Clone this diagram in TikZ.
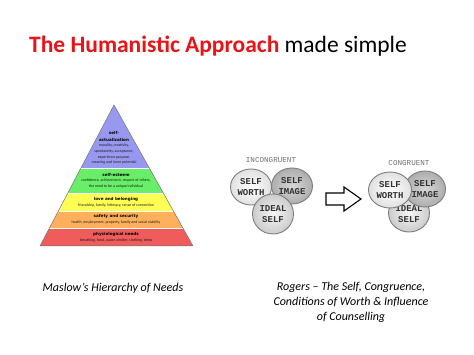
\documentclass[tikz,border=0pt]{standalone}
\usepackage{fontspec}
\setmainfont{Carlito}
\newfontfamily\pyrhead{DejaVu Sans}
\newfontfamily\circfont{Liberation Mono}
\usetikzlibrary{shapes.geometric}
\definecolor{titlered}{RGB}{232,20,24}
\definecolor{pyrpurple}{RGB}{152,152,240}
\definecolor{pyrgreen}{RGB}{104,238,104}
\definecolor{pyryellow}{RGB}{255,255,84}
\definecolor{pyrorange}{RGB}{255,176,92}
\definecolor{pyrred}{RGB}{240,92,92}
\definecolor{circedge}{RGB}{125,125,125}
\definecolor{circtext}{RGB}{50,50,50}
\tikzset{
  pyrtext/.style={align=center, inner sep=0pt, text=black!90, font=\fontsize{3.9}{5.8}\selectfont},
  pyrhd/.style={inner sep=0pt, text=black, font=\pyrhead\bfseries\fontsize{4.1}{5}\selectfont},
  circ/.style={ellipse, draw=circedge, line width=0.9pt, minimum width=41pt, minimum height=36pt, inner sep=0pt, align=center, text=circtext, font=\circfont\bfseries\fontsize{9}{10.5}\selectfont},
  light/.style={inner color=white, outer color=black!12},
  dark/.style={inner color=black!16, outer color=black!32},
  mid/.style={inner color=black!4, outer color=black!20},
  caplabel/.style={text=black!55, inner sep=0pt, font=\circfont\fontsize{7.6}{9}\selectfont},
  caption/.style={align=center, inner sep=0pt, font=\itshape\fontsize{12}{15}\selectfont}
}
\begin{document}
\begin{tikzpicture}[x=1pt,y=-1pt]
\useasboundingbox (0,0) rectangle (474,355);
\fill[white] (0,0) rectangle (474,355);
% title
\node[anchor=base west, inner sep=0pt, font=\fontsize{23.5}{28}\selectfont] (title) at (29,53)
  {\textcolor{titlered}{\bfseries The Humanistic Approach} made simple};
% pyramid
\coordinate (apex) at (114,105);
\coordinate (bl) at (40,246);
\coordinate (br) at (193,246);
\begin{scope}
\clip (apex) -- (bl) -- (br) -- cycle;
\fill[pyrpurple] (0,100) rectangle (474,168);
\fill[pyrgreen] (0,168) rectangle (474,193);
\fill[pyryellow] (0,193) rectangle (474,211);
\fill[pyrorange] (0,211) rectangle (474,228);
\fill[pyrred] (0,228) rectangle (474,247);
\draw[white, line width=0.8pt] (0,168) -- (474,168) (0,193) -- (474,193) (0,211) -- (474,211) (0,228) -- (474,228);
\end{scope}
\draw[black!55, line width=0.5pt, line join=round] (apex) -- (bl) -- (br) -- cycle;
% pyramid texts
\node[pyrhd] (sa1) at (114,133) {self-};
\node[pyrhd] (sa2) at (114,139.5) {actualization};
\node[pyrtext, anchor=north] (sa3) at (114,143.5) {morality, creativity,\\spontaneity, acceptance,\\experience purpose,\\meaning and inner potential};
\node[pyrhd] (se1) at (116,175) {self-esteem};
\node[pyrtext, anchor=north] (se2) at (116,179) {confidence, achievement, respect of others,\\the need to be a unique individual};
\node[pyrhd] (lb1) at (116,199) {love and belonging};
\node[pyrtext] (lb2) at (116,205.5) {friendship, family, intimacy, sense of connection};
\node[pyrhd] (ss1) at (116,216.5) {safety and security};
\node[pyrtext] (ss2) at (116,222.5) {health, employment, property, family and social stability};
\node[pyrhd] (pn1) at (116,234) {physiological needs};
\node[pyrtext] (pn2) at (116,240) {breathing, food, water, shelter, clothing, sleep};
% incongruent
\node[caplabel] (inc) at (271,160) {INCONGRUENT};
\node[circ, dark] (si1) at (292,186) {SELF\\IMAGE};
\node[circ, light] (sw1) at (251,187) {SELF\\WORTH};
\node[circ, mid, minimum width=41pt, minimum height=40pt] (is1) at (273,214) {IDEAL\\SELF};
% arrow
\draw[black, line width=1.1pt, fill=white, line join=miter]
  (326,193) -- (344,193) -- (344,187) -- (361,199) -- (344,211) -- (344,205) -- (326,205) -- cycle;
% congruent
\node[caplabel] (con) at (409,163) {CONGRUENT};
\node[circ, mid, minimum height=38pt] (is2) at (409,213) {\\[-2pt]IDEAL\\SELF};
\node[circ, dark] (si2) at (425,189) {SELF\\IMAGE};
\node[circ, light, minimum width=43pt] (sw2) at (390,190) {SELF\\WORTH};
% captions
\node[caption] (cap1) at (113,288) {Maslow’s Hierarchy of Needs};
\node[caption, anchor=north] (cap2) at (351,282) {Rogers – The Self, Congruence,\\Conditions of Worth \& Influence\\of Counselling};
\end{tikzpicture}
\end{document}
